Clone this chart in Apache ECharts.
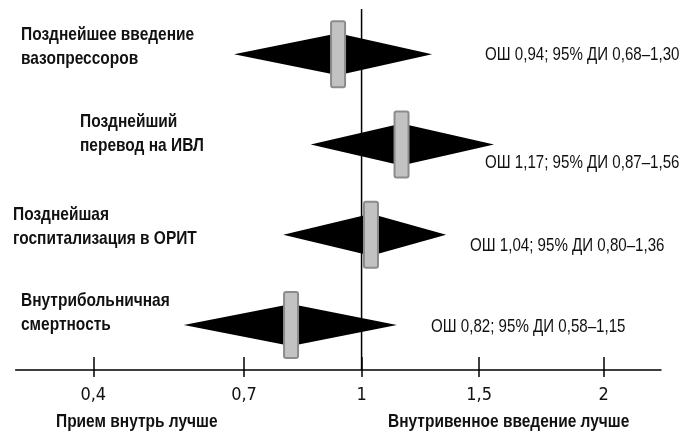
<!DOCTYPE html>
<html><head><meta charset="utf-8">
<script src="https://cdn.jsdelivr.net/npm/echarts@6/dist/echarts.min.js"></script>
<style>html,body{margin:0;padding:0;background:#fff}#c{width:698px;height:433px}</style>
</head><body><div id="c"></div>
<script>
// ---- data ----
const outcomeLines = [
  ['Позднейшее введение', 'вазопрессоров'],
  ['Позднейший', 'перевод на ИВЛ'],
  ['Позднейшая', 'госпитализация в ОРИТ'],
  ['Внутрибольничная', 'смертность']
];
const oddsRatio = [0.94, 1.17, 1.04, 0.82];
const ciLow     = [0.68, 0.87, 0.80, 0.58];
const ciHigh    = [1.30, 1.56, 1.36, 1.15];
const tickValues = [0.4, 0.7, 1, 1.5, 2];
const tickLabels = ['0,4', '0,7', '1', '1,5', '2'];
const favourLeft = 'Прием внутрь лучше';
const favourRight = 'Внутривенное введение лучше';

// ---- layout / scale (piecewise axis as in the original figure) ----
const AXIS_STOPS = [0, 1.283, 2.283, 3.283, 4.342];
const AXIS_MIN = -0.661, AXIS_MAX = 4.831;
function toAxis(v) {
  let i = 0;
  while (i < tickValues.length - 2 && v > tickValues[i + 1]) i++;
  const t = (v - tickValues[i]) / (tickValues[i + 1] - tickValues[i]);
  return AXIS_STOPS[i] + t * (AXIS_STOPS[i + 1] - AXIS_STOPS[i]);
}
const fmt = v => v.toFixed(2).replace('.', ',');
const FONT = "'Liberation Sans','Arimo',Arial,sans-serif";
const NARROW_BOLD = 0.815, NARROW = 0.795;
const leftLabelPos = [[21, 47], [80, 134], [13, 227], [21, 313]];
const rightLabelPos = [[485, 55], [485, 163], [470, 246], [431, 327]];

const rows = outcomeLines.map((_, i) => i);
const forestData = rows.map(i => [toAxis(ciLow[i]), toAxis(oddsRatio[i]), toAxis(ciHigh[i]), i]);

function txt(x, y, text, font, sx) {
  return { type: 'text', x: x, y: y, scaleX: sx, silent: true,
    style: { text: text, x: 0, y: 0, align: 'left', verticalAlign: 'middle', font: font, fill: '#111', lineHeight: 24 } };
}
const graphics = [];
rows.forEach(i => {
  graphics.push(txt(leftLabelPos[i][0], leftLabelPos[i][1], outcomeLines[i].join('\n'), 'bold 19px ' + FONT, NARROW_BOLD));
  graphics.push(txt(rightLabelPos[i][0], rightLabelPos[i][1],
    'ОШ ' + fmt(oddsRatio[i]) + '; 95% ДИ ' + fmt(ciLow[i]) + '–' + fmt(ciHigh[i]), '19px ' + FONT, NARROW));
});
graphics.push(txt(56, 422, favourLeft, 'bold 19px ' + FONT, NARROW_BOLD));
graphics.push(txt(388, 422, favourRight, 'bold 19px ' + FONT, NARROW_BOLD));

const tickLine = { color: '#000', width: 1.5 };
const chart = echarts.init(document.getElementById('c'), null, { renderer: 'canvas' });
chart.setOption({
  animation: false,
  backgroundColor: '#fff',
  grid: { left: 15.6, right: 37, top: 9, bottom: 63 },
  xAxis: [{
    type: 'value', min: AXIS_MIN, max: AXIS_MAX,
    axisLine: { show: true, onZero: false, lineStyle: tickLine },
    axisTick: { show: true, customValues: AXIS_STOPS, length: 7, lineStyle: tickLine },
    axisLabel: {
      customValues: AXIS_STOPS, margin: 16, fontSize: 18, fontFamily: "'DejaVu Sans Condensed',sans-serif", color: '#111',
      formatter: v => { const k = AXIS_STOPS.findIndex(s => Math.abs(s - v) < 1e-6); return k >= 0 ? tickLabels[k] : ''; }
    },
    splitLine: { show: false }
  }, {
    type: 'value', min: AXIS_MIN, max: AXIS_MAX, position: 'bottom',
    axisLine: { show: false, onZero: false },
    axisTick: { show: true, inside: true, customValues: AXIS_STOPS, length: 13, lineStyle: tickLine },
    axisLabel: { show: false }, splitLine: { show: false }
  }],
  yAxis: { type: 'category', data: rows, inverse: true, show: false },
  series: [{
    type: 'custom', xAxisIndex: 0,
    data: [[toAxis(1)]],
    encode: { x: 0 },
    renderItem: (params, api) => {
      const cs = params.coordSys;
      const x = api.coord([api.value(0), 0])[0];
      return { type: 'line', shape: { x1: x, y1: cs.y, x2: x, y2: cs.y + cs.height },
               style: { stroke: '#000', lineWidth: 1.5 } };
    }
  }, {
    type: 'custom', xAxisIndex: 0,
    data: forestData,
    encode: { x: [0, 1, 2], y: 3 },
    renderItem: (params, api) => {
      const r = api.value(3);
      const l = api.coord([api.value(0), r]);
      const c = api.coord([api.value(1), r]);
      const h = api.coord([api.value(2), r]);
      const hh = 21, bw = 14, bh = 66;
      return { type: 'group', children: [
        { type: 'polygon', shape: { points: [[l[0], c[1]], [c[0], c[1] - hh], [h[0], c[1]], [c[0], c[1] + hh]] },
          style: { fill: '#000' } },
        { type: 'rect', shape: { x: c[0] - bw / 2, y: c[1] - bh / 2, width: bw, height: bh, r: 2 },
          style: { fill: '#c2c2c2', stroke: '#8c8c8c', lineWidth: 2 } }
      ]};
    }
  }],
  graphic: graphics
});
</script>
</body></html>
